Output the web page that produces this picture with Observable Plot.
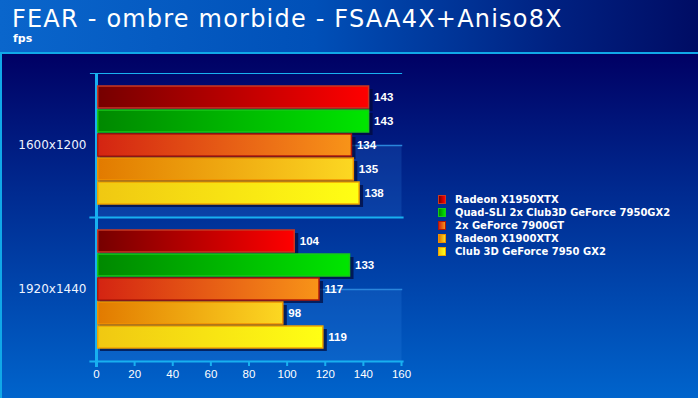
<!DOCTYPE html>
<html><head><meta charset="utf-8">
<script src="https://cdn.jsdelivr.net/npm/d3@7"></script>
<script src="https://cdn.jsdelivr.net/npm/@observablehq/plot@0.6"></script>
<style>
html,body{margin:0;padding:0;}
body{width:698px;height:398px;overflow:hidden;font-family:"DejaVu Sans",Verdana,sans-serif;}
#wrap{position:relative;width:698px;height:398px;overflow:hidden;}
#head{position:absolute;left:0;top:0;width:698px;height:52px;background:linear-gradient(to right,#0a66cc 0%,#0050b8 45%,#002080 80%,#000c64 100%);}
#hline{position:absolute;left:0;top:52px;width:698px;height:2px;background:#10a8e8;}
#main{position:absolute;left:0;top:54px;width:698px;height:344px;background:linear-gradient(to bottom,#000064 0%,#002a90 40%,#0064cc 100%);}
#vline{position:absolute;left:0;top:54px;width:2px;height:344px;background:#10a8e8;}
#title{position:absolute;left:12px;top:8px;font-size:24px;line-height:22px;letter-spacing:1.2px;color:#fff;white-space:nowrap;}
#sub{position:absolute;left:13px;top:33px;font-size:11px;line-height:11px;font-weight:bold;color:#fff;}
#chart{position:absolute;left:0;top:52px;}
#legend{position:absolute;left:438px;top:193px;font-size:10px;font-weight:bold;color:#fff;}
#legend .row{height:13px;line-height:13px;white-space:nowrap;display:flex;align-items:center;}
#legend .sw{width:6px;height:7px;margin-right:9px;border:1px solid;}
</style>
</head><body>
<div id="wrap">
  <div id="head"></div>
  <div id="main"></div>
  <div id="hline"></div>
  <div id="vline"></div>
  <div id="title">FEAR - ombre morbide - FSAA4X+Aniso8X</div>
  <div id="sub">fps</div>
  <div id="chart"></div>
  <div id="legend"></div>
</div>
<script>
// ---- data ----
const resolutions = ["1600x1200", "1920x1440"];
const cards = ["Radeon X1950XTX", "Quad-SLI 2x Club3D GeForce 7950GX2", "2x GeForce 7900GT", "Radeon X1900XTX", "Club 3D GeForce 7950 GX2"];
const fps1600 = [143, 143, 134, 135, 138];
const fps1920 = [104, 133, 117, 98, 119];
const xTicks = [0, 20, 40, 60, 80, 100, 120, 140, 160];

// ---- styles ----
const gradStops = [["#760000", "#ff0000"], ["#008800", "#00e600"], ["#d42412", "#f89418"], ["#e27a00", "#fcd822"], ["#f0c812", "#ffff14"]];
const strokes = ["#c83822", "#18c818", "#b01808", "#f09000", "#f0a400"];
const cyan = "#18b0f0";
const numFont = "'Liberation Sans', Arial, sans-serif";

const series = [fps1600, fps1920];
const data = resolutions.flatMap((r, ri) => cards.map((c, ci) => ({res: r, card: c, fps: series[ri][ci], k: ci})));

const chart = Plot.plot({
  width: 698, height: 346,
  marginLeft: 96, marginRight: 297, marginTop: 20, marginBottom: 37,
  style: {background: "transparent", color: "#fff", fontFamily: "'DejaVu Sans', Verdana, sans-serif", fontSize: "12px", overflow: "visible"},
  x: {domain: [0, 160]},
  y: {domain: cards, paddingInner: 0.09, paddingOuter: 0.52, axis: null},
  fy: {domain: resolutions, padding: 0, axis: null},
  marks: [
    Plot.frame({fill: "#3a90f0", fillOpacity: 0.18, stroke: "none", insetTop: 72}),
    Plot.frame({anchor: "top", stroke: "#2a86dc", strokeWidth: 1.5, insetTop: 72}),
    Plot.frame({anchor: "top", stroke: cyan, strokeWidth: 1.2, insetLeft: -6}),
    Plot.frame({anchor: "bottom", stroke: cyan, strokeWidth: 2.2, insetLeft: -6, insetRight: -1}),
    Plot.ruleX([0], {stroke: cyan, strokeWidth: 3, insetBottom: -6}),
    Plot.barX(data, {x: "fps", y: "card", fy: "res", fill: "#000838", fillOpacity: 0.7, dx: 4, dy: 3}),
    ...cards.map((c, i) => Plot.barX(data, {filter: d => d.card === c, x1: 0.9, x2: "fps", y: "card", fy: "res", fill: `url(#g${i})`, stroke: strokes[i], strokeWidth: 1.5})),
    Plot.text(data, {x: "fps", y: "card", fy: "res", text: d => String(d.fps), dx: 5, textAnchor: "start", fill: "#fff", fontWeight: "bold", fontSize: 11.5, fontFamily: numFont}),
    Plot.axisX({ticks: xTicks, tickSize: 5, tickPadding: 3, stroke: cyan, strokeWidth: 2, fill: "#fff", fontSize: 11.5, fontFamily: numFont, label: null, anchor: "bottom"}),
    Plot.axisFy({anchor: "left", tickSize: 0, tickPadding: 10, fill: "#eef4ff", fontSize: 12, label: null})
  ]
});

const defs = d3.select(chart).insert("defs", ":first-child");
gradStops.forEach((s, i) => {
  const g = defs.append("linearGradient").attr("id", `g${i}`).attr("x1", "0").attr("x2", "1").attr("y1", "0").attr("y2", "0");
  g.append("stop").attr("offset", "0%").attr("stop-color", s[0]);
  g.append("stop").attr("offset", "100%").attr("stop-color", s[1]);
});
document.getElementById("chart").appendChild(chart);

const legend = document.getElementById("legend");
cards.forEach((c, i) => {
  const row = document.createElement("div");
  row.className = "row";
  const sw = document.createElement("span");
  sw.className = "sw";
  sw.style.background = `linear-gradient(to right, ${gradStops[i][0]}, ${gradStops[i][1]})`;
  sw.style.borderColor = strokes[i];
  const t = document.createElement("span");
  t.textContent = c;
  row.appendChild(sw); row.appendChild(t);
  legend.appendChild(row);
});
</script>
</body></html>
